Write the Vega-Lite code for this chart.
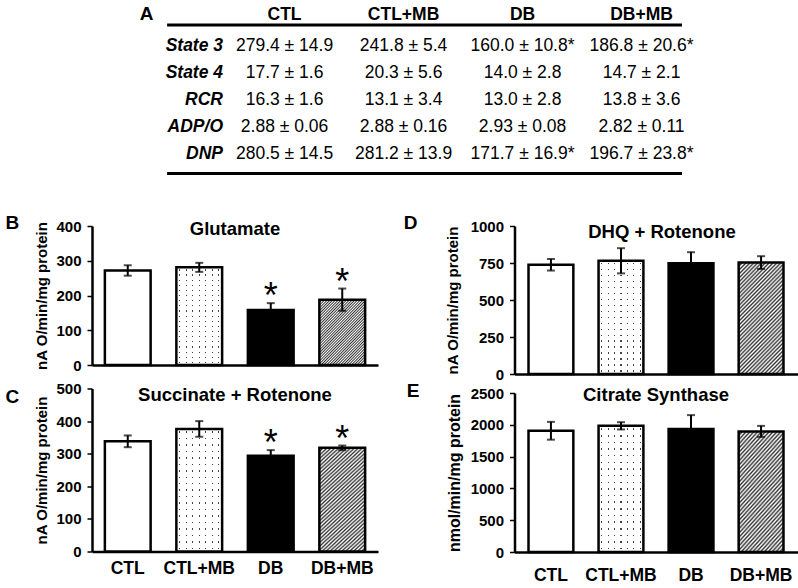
{
  "$schema": "https://vega.github.io/schema/vega-lite/v6.json",
  "config": {
    "font": "Liberation Sans",
    "view": {"stroke": null},
    "axis": {"domainColor": "black", "tickColor": "black", "labelColor": "black", "titleColor": "black", "grid": false, "labelFont": "Liberation Sans", "titleFont": "Liberation Sans", "labelOverlap": false},
    "axisY": {"labelFontSize": 15, "labelFontWeight": "bold", "titleFontSize": 15, "titleFontWeight": "bold", "tickSize": 5, "tickWidth": 1.5, "domainWidth": 2.5, "labelPadding": 6},
    "axisX": {"domainWidth": 2.5},
    "text": {"color": "black"},
    "title": {"color": "black", "font": "Liberation Sans"},
    "style": {
      "hatch": {"color": {"gradient": "linear", "x1": 0, "y1": 0, "x2": 0.495, "y2": 1.207, "stops": [
        {"offset": 0, "color": "#333"}, {"offset": 0.0125, "color": "#fff"}, {"offset": 0.025, "color": "#333"}, {"offset": 0.0375, "color": "#fff"}, {"offset": 0.05, "color": "#333"}, {"offset": 0.0625, "color": "#fff"}, {"offset": 0.075, "color": "#333"}, {"offset": 0.0875, "color": "#fff"}, {"offset": 0.1, "color": "#333"}, {"offset": 0.1125, "color": "#fff"}, {"offset": 0.125, "color": "#333"}, {"offset": 0.1375, "color": "#fff"}, {"offset": 0.15, "color": "#333"}, {"offset": 0.1625, "color": "#fff"}, {"offset": 0.175, "color": "#333"}, {"offset": 0.1875, "color": "#fff"}, {"offset": 0.2, "color": "#333"}, {"offset": 0.2125, "color": "#fff"}, {"offset": 0.225, "color": "#333"}, {"offset": 0.2375, "color": "#fff"}, {"offset": 0.25, "color": "#333"}, {"offset": 0.2625, "color": "#fff"}, {"offset": 0.275, "color": "#333"}, {"offset": 0.2875, "color": "#fff"}, {"offset": 0.3, "color": "#333"}, {"offset": 0.3125, "color": "#fff"}, {"offset": 0.325, "color": "#333"}, {"offset": 0.3375, "color": "#fff"}, {"offset": 0.35, "color": "#333"}, {"offset": 0.3625, "color": "#fff"}, {"offset": 0.375, "color": "#333"}, {"offset": 0.3875, "color": "#fff"}, {"offset": 0.4, "color": "#333"}, {"offset": 0.4125, "color": "#fff"}, {"offset": 0.425, "color": "#333"}, {"offset": 0.4375, "color": "#fff"}, {"offset": 0.45, "color": "#333"}, {"offset": 0.4625, "color": "#fff"}, {"offset": 0.475, "color": "#333"}, {"offset": 0.4875, "color": "#fff"}, {"offset": 0.5, "color": "#333"}, {"offset": 0.5125, "color": "#fff"}, {"offset": 0.525, "color": "#333"}, {"offset": 0.5375, "color": "#fff"}, {"offset": 0.55, "color": "#333"}, {"offset": 0.5625, "color": "#fff"}, {"offset": 0.575, "color": "#333"}, {"offset": 0.5875, "color": "#fff"}, {"offset": 0.6, "color": "#333"}, {"offset": 0.6125, "color": "#fff"}, {"offset": 0.625, "color": "#333"}, {"offset": 0.6375, "color": "#fff"}, {"offset": 0.65, "color": "#333"}, {"offset": 0.6625, "color": "#fff"}, {"offset": 0.675, "color": "#333"}, {"offset": 0.6875, "color": "#fff"}, {"offset": 0.7, "color": "#333"}, {"offset": 0.7125, "color": "#fff"}, {"offset": 0.725, "color": "#333"}, {"offset": 0.7375, "color": "#fff"}, {"offset": 0.75, "color": "#333"}, {"offset": 0.7625, "color": "#fff"}, {"offset": 0.775, "color": "#333"}, {"offset": 0.7875, "color": "#fff"}, {"offset": 0.8, "color": "#333"}, {"offset": 0.8125, "color": "#fff"}, {"offset": 0.825, "color": "#333"}, {"offset": 0.8375, "color": "#fff"}, {"offset": 0.85, "color": "#333"}, {"offset": 0.8625, "color": "#fff"}, {"offset": 0.875, "color": "#333"}, {"offset": 0.8875, "color": "#fff"}, {"offset": 0.9, "color": "#333"}, {"offset": 0.9125, "color": "#fff"}, {"offset": 0.925, "color": "#333"}, {"offset": 0.9375, "color": "#fff"}, {"offset": 0.95, "color": "#333"}, {"offset": 0.9625, "color": "#fff"}, {"offset": 0.975, "color": "#333"}, {"offset": 0.9875, "color": "#fff"}, {"offset": 1, "color": "#333"}
      ]}},
      "hatchB": {"color": {"gradient": "linear", "x1": 0, "y1": 0, "x2": 0.807, "y2": 1.137, "stops": [
        {"offset": 0, "color": "#333"}, {"offset": 0.0125, "color": "#fff"}, {"offset": 0.025, "color": "#333"}, {"offset": 0.0375, "color": "#fff"}, {"offset": 0.05, "color": "#333"}, {"offset": 0.0625, "color": "#fff"}, {"offset": 0.075, "color": "#333"}, {"offset": 0.0875, "color": "#fff"}, {"offset": 0.1, "color": "#333"}, {"offset": 0.1125, "color": "#fff"}, {"offset": 0.125, "color": "#333"}, {"offset": 0.1375, "color": "#fff"}, {"offset": 0.15, "color": "#333"}, {"offset": 0.1625, "color": "#fff"}, {"offset": 0.175, "color": "#333"}, {"offset": 0.1875, "color": "#fff"}, {"offset": 0.2, "color": "#333"}, {"offset": 0.2125, "color": "#fff"}, {"offset": 0.225, "color": "#333"}, {"offset": 0.2375, "color": "#fff"}, {"offset": 0.25, "color": "#333"}, {"offset": 0.2625, "color": "#fff"}, {"offset": 0.275, "color": "#333"}, {"offset": 0.2875, "color": "#fff"}, {"offset": 0.3, "color": "#333"}, {"offset": 0.3125, "color": "#fff"}, {"offset": 0.325, "color": "#333"}, {"offset": 0.3375, "color": "#fff"}, {"offset": 0.35, "color": "#333"}, {"offset": 0.3625, "color": "#fff"}, {"offset": 0.375, "color": "#333"}, {"offset": 0.3875, "color": "#fff"}, {"offset": 0.4, "color": "#333"}, {"offset": 0.4125, "color": "#fff"}, {"offset": 0.425, "color": "#333"}, {"offset": 0.4375, "color": "#fff"}, {"offset": 0.45, "color": "#333"}, {"offset": 0.4625, "color": "#fff"}, {"offset": 0.475, "color": "#333"}, {"offset": 0.4875, "color": "#fff"}, {"offset": 0.5, "color": "#333"}, {"offset": 0.5125, "color": "#fff"}, {"offset": 0.525, "color": "#333"}, {"offset": 0.5375, "color": "#fff"}, {"offset": 0.55, "color": "#333"}, {"offset": 0.5625, "color": "#fff"}, {"offset": 0.575, "color": "#333"}, {"offset": 0.5875, "color": "#fff"}, {"offset": 0.6, "color": "#333"}, {"offset": 0.6125, "color": "#fff"}, {"offset": 0.625, "color": "#333"}, {"offset": 0.6375, "color": "#fff"}, {"offset": 0.65, "color": "#333"}, {"offset": 0.6625, "color": "#fff"}, {"offset": 0.675, "color": "#333"}, {"offset": 0.6875, "color": "#fff"}, {"offset": 0.7, "color": "#333"}, {"offset": 0.7125, "color": "#fff"}, {"offset": 0.725, "color": "#333"}, {"offset": 0.7375, "color": "#fff"}, {"offset": 0.75, "color": "#333"}, {"offset": 0.7625, "color": "#fff"}, {"offset": 0.775, "color": "#333"}, {"offset": 0.7875, "color": "#fff"}, {"offset": 0.8, "color": "#333"}, {"offset": 0.8125, "color": "#fff"}, {"offset": 0.825, "color": "#333"}, {"offset": 0.8375, "color": "#fff"}, {"offset": 0.85, "color": "#333"}, {"offset": 0.8625, "color": "#fff"}, {"offset": 0.875, "color": "#333"}, {"offset": 0.8875, "color": "#fff"}, {"offset": 0.9, "color": "#333"}, {"offset": 0.9125, "color": "#fff"}, {"offset": 0.925, "color": "#333"}, {"offset": 0.9375, "color": "#fff"}, {"offset": 0.95, "color": "#333"}, {"offset": 0.9625, "color": "#fff"}, {"offset": 0.975, "color": "#333"}, {"offset": 0.9875, "color": "#fff"}, {"offset": 1, "color": "#333"}
      ]}},
      "vstripe": {"color": {"gradient": "linear", "x1": 0, "y1": 0, "x2": 1, "y2": 0, "stops": [
        {"offset": 0.058, "color": "white"}, {"offset": 0.058, "color": "rgba(255,255,255,0)"}, {"offset": 0.085, "color": "rgba(255,255,255,0)"}, {"offset": 0.085, "color": "white"},
        {"offset": 0.201, "color": "white"}, {"offset": 0.201, "color": "rgba(255,255,255,0)"}, {"offset": 0.228, "color": "rgba(255,255,255,0)"}, {"offset": 0.228, "color": "white"},
        {"offset": 0.344, "color": "white"}, {"offset": 0.344, "color": "rgba(255,255,255,0)"}, {"offset": 0.371, "color": "rgba(255,255,255,0)"}, {"offset": 0.371, "color": "white"},
        {"offset": 0.487, "color": "white"}, {"offset": 0.487, "color": "rgba(255,255,255,0)"}, {"offset": 0.514, "color": "rgba(255,255,255,0)"}, {"offset": 0.514, "color": "white"},
        {"offset": 0.629, "color": "white"}, {"offset": 0.629, "color": "rgba(255,255,255,0)"}, {"offset": 0.656, "color": "rgba(255,255,255,0)"}, {"offset": 0.656, "color": "white"},
        {"offset": 0.772, "color": "white"}, {"offset": 0.772, "color": "rgba(255,255,255,0)"}, {"offset": 0.799, "color": "rgba(255,255,255,0)"}, {"offset": 0.799, "color": "white"},
        {"offset": 0.915, "color": "white"}, {"offset": 0.915, "color": "rgba(255,255,255,0)"}, {"offset": 0.942, "color": "rgba(255,255,255,0)"}, {"offset": 0.942, "color": "white"}
      ]}},
      "hstripe": {"color": {"gradient": "linear", "x1": 0, "y1": 0, "x2": 0, "y2": 1, "stops": [
        {"offset": 0.0203, "color": "white"}, {"offset": 0.0203, "color": "rgba(255,255,255,0)"}, {"offset": 0.0323, "color": "rgba(255,255,255,0)"}, {"offset": 0.0323, "color": "white"},
        {"offset": 0.0729, "color": "white"}, {"offset": 0.0729, "color": "rgba(255,255,255,0)"}, {"offset": 0.0849, "color": "rgba(255,255,255,0)"}, {"offset": 0.0849, "color": "white"},
        {"offset": 0.1256, "color": "white"}, {"offset": 0.1256, "color": "rgba(255,255,255,0)"}, {"offset": 0.1376, "color": "rgba(255,255,255,0)"}, {"offset": 0.1376, "color": "white"},
        {"offset": 0.1782, "color": "white"}, {"offset": 0.1782, "color": "rgba(255,255,255,0)"}, {"offset": 0.1902, "color": "rgba(255,255,255,0)"}, {"offset": 0.1902, "color": "white"},
        {"offset": 0.2308, "color": "white"}, {"offset": 0.2308, "color": "rgba(255,255,255,0)"}, {"offset": 0.2428, "color": "rgba(255,255,255,0)"}, {"offset": 0.2428, "color": "white"},
        {"offset": 0.2835, "color": "white"}, {"offset": 0.2835, "color": "rgba(255,255,255,0)"}, {"offset": 0.2955, "color": "rgba(255,255,255,0)"}, {"offset": 0.2955, "color": "white"},
        {"offset": 0.3361, "color": "white"}, {"offset": 0.3361, "color": "rgba(255,255,255,0)"}, {"offset": 0.3481, "color": "rgba(255,255,255,0)"}, {"offset": 0.3481, "color": "white"},
        {"offset": 0.3887, "color": "white"}, {"offset": 0.3887, "color": "rgba(255,255,255,0)"}, {"offset": 0.4007, "color": "rgba(255,255,255,0)"}, {"offset": 0.4007, "color": "white"},
        {"offset": 0.4414, "color": "white"}, {"offset": 0.4414, "color": "rgba(255,255,255,0)"}, {"offset": 0.4534, "color": "rgba(255,255,255,0)"}, {"offset": 0.4534, "color": "white"},
        {"offset": 0.494, "color": "white"}, {"offset": 0.494, "color": "rgba(255,255,255,0)"}, {"offset": 0.506, "color": "rgba(255,255,255,0)"}, {"offset": 0.506, "color": "white"},
        {"offset": 0.5466, "color": "white"}, {"offset": 0.5466, "color": "rgba(255,255,255,0)"}, {"offset": 0.5586, "color": "rgba(255,255,255,0)"}, {"offset": 0.5586, "color": "white"},
        {"offset": 0.5993, "color": "white"}, {"offset": 0.5993, "color": "rgba(255,255,255,0)"}, {"offset": 0.6113, "color": "rgba(255,255,255,0)"}, {"offset": 0.6113, "color": "white"},
        {"offset": 0.6519, "color": "white"}, {"offset": 0.6519, "color": "rgba(255,255,255,0)"}, {"offset": 0.6639, "color": "rgba(255,255,255,0)"}, {"offset": 0.6639, "color": "white"},
        {"offset": 0.7045, "color": "white"}, {"offset": 0.7045, "color": "rgba(255,255,255,0)"}, {"offset": 0.7165, "color": "rgba(255,255,255,0)"}, {"offset": 0.7165, "color": "white"},
        {"offset": 0.7572, "color": "white"}, {"offset": 0.7572, "color": "rgba(255,255,255,0)"}, {"offset": 0.7692, "color": "rgba(255,255,255,0)"}, {"offset": 0.7692, "color": "white"},
        {"offset": 0.8098, "color": "white"}, {"offset": 0.8098, "color": "rgba(255,255,255,0)"}, {"offset": 0.8218, "color": "rgba(255,255,255,0)"}, {"offset": 0.8218, "color": "white"},
        {"offset": 0.8624, "color": "white"}, {"offset": 0.8624, "color": "rgba(255,255,255,0)"}, {"offset": 0.8744, "color": "rgba(255,255,255,0)"}, {"offset": 0.8744, "color": "white"},
        {"offset": 0.9151, "color": "white"}, {"offset": 0.9151, "color": "rgba(255,255,255,0)"}, {"offset": 0.9271, "color": "rgba(255,255,255,0)"}, {"offset": 0.9271, "color": "white"},
        {"offset": 0.9677, "color": "white"}, {"offset": 0.9677, "color": "rgba(255,255,255,0)"}, {"offset": 0.9797, "color": "rgba(255,255,255,0)"}, {"offset": 0.9797, "color": "white"}
      ]}}
    }
  },
  "spacing": 39,
  "vconcat": [
    {
      "width": 696,
      "height": 148,
      "data": {"values": [
        {"row": "State 3", "col": "CTL", "txt": "279.4 ± 14.9"},
        {"row": "State 3", "col": "CTL+MB", "txt": "241.8 ± 5.4"},
        {"row": "State 3", "col": "DB", "txt": "160.0 ± 10.8*"},
        {"row": "State 3", "col": "DB+MB", "txt": "186.8 ± 20.6*"},
        {"row": "State 4", "col": "CTL", "txt": "17.7 ± 1.6"},
        {"row": "State 4", "col": "CTL+MB", "txt": "20.3 ± 5.6"},
        {"row": "State 4", "col": "DB", "txt": "14.0 ± 2.8"},
        {"row": "State 4", "col": "DB+MB", "txt": "14.7 ± 2.1"},
        {"row": "RCR", "col": "CTL", "txt": "16.3 ± 1.6"},
        {"row": "RCR", "col": "CTL+MB", "txt": "13.1 ± 3.4"},
        {"row": "RCR", "col": "DB", "txt": "13.0 ± 2.8"},
        {"row": "RCR", "col": "DB+MB", "txt": "13.8 ± 3.6"},
        {"row": "ADP/O", "col": "CTL", "txt": "2.88 ± 0.06"},
        {"row": "ADP/O", "col": "CTL+MB", "txt": "2.88 ± 0.16"},
        {"row": "ADP/O", "col": "DB", "txt": "2.93 ± 0.08"},
        {"row": "ADP/O", "col": "DB+MB", "txt": "2.82 ± 0.11"},
        {"row": "DNP", "col": "CTL", "txt": "280.5 ± 14.5"},
        {"row": "DNP", "col": "CTL+MB", "txt": "281.2 ± 13.9"},
        {"row": "DNP", "col": "DB", "txt": "171.7 ± 16.9*"},
        {"row": "DNP", "col": "DB+MB", "txt": "196.7 ± 23.8*"}
      ]},
      "layer": [
        {
          "mark": {"type": "text", "fontSize": 17.5, "baseline": "middle"},
          "encoding": {
            "x": {"field": "col", "type": "nominal", "scale": {"type": "band", "domain": ["lbl", "CTL", "CTL+MB", "DB", "DB+MB"], "paddingInner": 0, "paddingOuter": 0.4244, "align": 0.139},
                  "axis": {"orient": "top", "values": ["CTL", "CTL+MB", "DB", "DB+MB"], "domain": false, "ticks": false, "labelFontSize": 17.5, "labelFontWeight": "bold", "labelPadding": 1.5, "labelAngle": 0, "title": null}},
            "y": {"field": "row", "type": "nominal", "scale": {"type": "band", "domain": ["State 3", "State 4", "RCR", "ADP/O", "DNP"], "paddingInner": 0, "paddingOuter": 0.2407, "align": 0.577}, "axis": null},
            "text": {"field": "txt"}
          }
        },
        {
          "data": {"values": [{"row": "State 3"}, {"row": "State 4"}, {"row": "RCR"}, {"row": "ADP/O"}, {"row": "DNP"}]},
          "mark": {"type": "text", "fontSize": 17.5, "fontWeight": "bold", "fontStyle": "italic", "align": "right", "baseline": "middle"},
          "encoding": {
            "x": {"datum": "lbl", "type": "nominal", "bandPosition": 0.983},
            "y": {"field": "row", "type": "nominal"},
            "text": {"field": "row"}
          }
        },
        {
          "data": {"values": [{"label": "A"}]},
          "mark": {"type": "text", "fontSize": 19, "fontWeight": "bold", "align": "center", "baseline": "middle"},
          "encoding": {
            "x": {"datum": "lbl", "type": "nominal", "bandPosition": 0.34},
            "y": {"datum": "State 3", "type": "nominal", "bandPosition": -0.685},
            "text": {"field": "label"}
          }
        },
        {
          "data": {"values": [{}]},
          "mark": {"type": "rule", "strokeWidth": 3, "color": "black"},
          "encoding": {
            "x": {"datum": "lbl", "type": "nominal", "bandPosition": 0.513},
            "x2": {"datum": "DB+MB", "bandPosition": 0.84},
            "y": {"datum": "State 3", "type": "nominal", "bandPosition": -0.278}
          }
        },
        {
          "data": {"values": [{}]},
          "mark": {"type": "rule", "strokeWidth": 3, "color": "black"},
          "encoding": {
            "x": {"datum": "lbl", "type": "nominal", "bandPosition": 0.513},
            "x2": {"datum": "DB+MB", "bandPosition": 0.84},
            "y": {"datum": "DNP", "type": "nominal", "bandPosition": 1.222}
          }
        }
      ]
    },
    {
      "spacing": 25.5,
      "hconcat": [
        {
          "spacing": 8.5,
          "vconcat": [
            {
              "width": 286,
              "height": 139,
              "title": {"text": "B", "orient": "left", "anchor": "end", "frame": "group", "angle": 0, "align": "right", "baseline": "top", "offset": 2, "dy": -12, "fontSize": 19, "fontWeight": "bold"},
              "data": {"values": [
                {"group": "CTL", "mean": 272, "lo": 257, "hi": 287, "sig": ""},
                {"group": "CTL+MB", "mean": 281, "lo": 268, "hi": 294, "sig": ""},
                {"group": "DB", "mean": 158, "lo": 138, "hi": 178, "sig": "*"},
                {"group": "DB+MB", "mean": 188, "lo": 156, "hi": 220, "sig": "*"}
              ]},
              "layer": [
                {
                  "mark": {"type": "bar"},
                  "encoding": {
                    "x": {"field": "group", "type": "nominal", "scale": {"domain": ["CTL", "CTL+MB", "DB", "DB+MB"], "paddingInner": 0.36, "paddingOuter": 0.18}, "axis": {"title": null, "labels": false, "ticks": false, "domainWidth": 2.5}},
                    "y": {"field": "mean", "type": "quantitative", "scale": {"domain": [0, 400], "nice": false}, "axis": {"title": "nA O/min/mg protein", "values": [0, 100, 200, 300, 400], "format": "d", "labelFontSize": 15, "labelFontWeight": "bold", "titleFontSize": 15, "titleFontWeight": "bold", "tickSize": 5, "tickWidth": 1.5, "domainWidth": 2.5, "labelPadding": 6, "titlePadding": 6}},
                    "fill": {"condition": [{"test": "datum.group === 'CTL+MB'", "value": "#444"}, {"test": "datum.group === 'DB'", "value": "black"}], "value": "white"}
                  }
                },
                {"transform": [{"filter": "datum.group === 'DB+MB'"}], "mark": {"type": "bar", "style": "hatchB"}, "encoding": {"x": {"field": "group", "type": "nominal"}, "y": {"field": "mean", "type": "quantitative", "axis": {"title": "nA O/min/mg protein", "values": [0, 100, 200, 300, 400], "format": "d", "labelFontSize": 15, "labelFontWeight": "bold", "titleFontSize": 15, "titleFontWeight": "bold", "tickSize": 5, "tickWidth": 1.5, "domainWidth": 2.5, "labelPadding": 6, "titlePadding": 6}}}},
                {"transform": [{"filter": "datum.group === 'CTL+MB'"}], "mark": {"type": "bar", "style": "vstripe"}, "encoding": {"x": {"field": "group", "type": "nominal"}, "y": {"field": "mean", "type": "quantitative", "axis": {"title": "nA O/min/mg protein", "values": [0, 100, 200, 300, 400], "format": "d", "labelFontSize": 15, "labelFontWeight": "bold", "titleFontSize": 15, "titleFontWeight": "bold", "tickSize": 5, "tickWidth": 1.5, "domainWidth": 2.5, "labelPadding": 6, "titlePadding": 6}}}},
                {"transform": [{"filter": "datum.group === 'CTL+MB'"}], "mark": {"type": "bar", "style": "hstripe"}, "encoding": {"x": {"field": "group", "type": "nominal"}, "y": {"field": "mean", "type": "quantitative", "axis": {"title": "nA O/min/mg protein", "values": [0, 100, 200, 300, 400], "format": "d", "labelFontSize": 15, "labelFontWeight": "bold", "titleFontSize": 15, "titleFontWeight": "bold", "tickSize": 5, "tickWidth": 1.5, "domainWidth": 2.5, "labelPadding": 6, "titlePadding": 6}}}},
                {"mark": {"type": "bar", "fill": "white", "fillOpacity": 0, "stroke": "black", "strokeWidth": 2.5}, "encoding": {"x": {"field": "group", "type": "nominal"}, "y": {"field": "mean", "type": "quantitative", "axis": {"title": "nA O/min/mg protein", "values": [0, 100, 200, 300, 400], "format": "d", "labelFontSize": 15, "labelFontWeight": "bold", "titleFontSize": 15, "titleFontWeight": "bold", "tickSize": 5, "tickWidth": 1.5, "domainWidth": 2.5, "labelPadding": 6, "titlePadding": 6}}}},
                {"mark": {"type": "errorbar", "color": "black", "ticks": {"size": 8, "thickness": 2, "color": "black"}, "rule": {"strokeWidth": 2, "color": "black"}}, "encoding": {"x": {"field": "group", "type": "nominal"}, "y": {"field": "lo", "type": "quantitative", "axis": {"title": "nA O/min/mg protein", "values": [0, 100, 200, 300, 400], "format": "d", "labelFontSize": 15, "labelFontWeight": "bold", "titleFontSize": 15, "titleFontWeight": "bold", "tickSize": 5, "tickWidth": 1.5, "domainWidth": 2.5, "labelPadding": 6, "titlePadding": 6}}, "y2": {"field": "hi"}}},
                {"mark": {"type": "text", "fontSize": 36, "baseline": "alphabetic", "dy": 5}, "encoding": {"x": {"field": "group", "type": "nominal"}, "y": {"field": "hi", "type": "quantitative", "axis": {"title": "nA O/min/mg protein", "values": [0, 100, 200, 300, 400], "format": "d", "labelFontSize": 15, "labelFontWeight": "bold", "titleFontSize": 15, "titleFontWeight": "bold", "tickSize": 5, "tickWidth": 1.5, "domainWidth": 2.5, "labelPadding": 6, "titlePadding": 6}}, "text": {"field": "sig"}}},
                {"data": {"values": [{"name": "Glutamate"}]}, "mark": {"type": "text", "fontSize": 18.5, "fontWeight": "bold", "baseline": "middle", "dy": 3}, "encoding": {"y": {"datum": 400, "type": "quantitative", "axis": {"title": "nA O/min/mg protein", "values": [0, 100, 200, 300, 400], "format": "d", "labelFontSize": 15, "labelFontWeight": "bold", "titleFontSize": 15, "titleFontWeight": "bold", "tickSize": 5, "tickWidth": 1.5, "domainWidth": 2.5, "labelPadding": 6, "titlePadding": 6}}, "text": {"field": "name"}}}
              ]
            },
            {
              "width": 286,
              "height": 163,
              "title": {"text": "C", "orient": "left", "anchor": "end", "frame": "group", "angle": 0, "align": "right", "baseline": "top", "offset": 2, "dy": -1, "fontSize": 19, "fontWeight": "bold"},
              "data": {"values": [
                {"group": "CTL", "mean": 338, "lo": 320, "hi": 356, "sig": ""},
                {"group": "CTL+MB", "mean": 376, "lo": 352, "hi": 400, "sig": ""},
                {"group": "DB", "mean": 294, "lo": 277, "hi": 311, "sig": "*"},
                {"group": "DB+MB", "mean": 318, "lo": 311, "hi": 325, "sig": "*"}
              ]},
              "layer": [
                {
                  "mark": {"type": "bar"},
                  "encoding": {
                    "x": {"field": "group", "type": "nominal", "scale": {"domain": ["CTL", "CTL+MB", "DB", "DB+MB"], "paddingInner": 0.36, "paddingOuter": 0.18}, "axis": {"title": null, "labelAngle": 0, "labelFontSize": 17.5, "labelFontWeight": "bold", "labelPadding": 8, "ticks": false, "domainWidth": 2.5}},
                    "y": {"field": "mean", "type": "quantitative", "scale": {"domain": [0, 500], "nice": false}, "axis": {"title": "nA O/min/mg protein", "values": [0, 100, 200, 300, 400, 500], "format": "d", "labelFontSize": 15, "labelFontWeight": "bold", "titleFontSize": 15, "titleFontWeight": "bold", "tickSize": 5, "tickWidth": 1.5, "domainWidth": 2.5, "labelPadding": 6, "titlePadding": 6}},
                    "fill": {"condition": [{"test": "datum.group === 'CTL+MB'", "value": "#444"}, {"test": "datum.group === 'DB'", "value": "black"}], "value": "white"}
                  }
                },
                {"transform": [{"filter": "datum.group === 'DB+MB'"}], "mark": {"type": "bar", "style": "hatch"}, "encoding": {"x": {"field": "group", "type": "nominal"}, "y": {"field": "mean", "type": "quantitative", "axis": {"title": "nA O/min/mg protein", "values": [0, 100, 200, 300, 400, 500], "format": "d", "labelFontSize": 15, "labelFontWeight": "bold", "titleFontSize": 15, "titleFontWeight": "bold", "tickSize": 5, "tickWidth": 1.5, "domainWidth": 2.5, "labelPadding": 6, "titlePadding": 6}}}},
                {"transform": [{"filter": "datum.group === 'CTL+MB'"}], "mark": {"type": "bar", "style": "vstripe"}, "encoding": {"x": {"field": "group", "type": "nominal"}, "y": {"field": "mean", "type": "quantitative", "axis": {"title": "nA O/min/mg protein", "values": [0, 100, 200, 300, 400, 500], "format": "d", "labelFontSize": 15, "labelFontWeight": "bold", "titleFontSize": 15, "titleFontWeight": "bold", "tickSize": 5, "tickWidth": 1.5, "domainWidth": 2.5, "labelPadding": 6, "titlePadding": 6}}}},
                {"transform": [{"filter": "datum.group === 'CTL+MB'"}], "mark": {"type": "bar", "style": "hstripe"}, "encoding": {"x": {"field": "group", "type": "nominal"}, "y": {"field": "mean", "type": "quantitative", "axis": {"title": "nA O/min/mg protein", "values": [0, 100, 200, 300, 400, 500], "format": "d", "labelFontSize": 15, "labelFontWeight": "bold", "titleFontSize": 15, "titleFontWeight": "bold", "tickSize": 5, "tickWidth": 1.5, "domainWidth": 2.5, "labelPadding": 6, "titlePadding": 6}}}},
                {"mark": {"type": "bar", "fill": "white", "fillOpacity": 0, "stroke": "black", "strokeWidth": 2.5}, "encoding": {"x": {"field": "group", "type": "nominal"}, "y": {"field": "mean", "type": "quantitative", "axis": {"title": "nA O/min/mg protein", "values": [0, 100, 200, 300, 400, 500], "format": "d", "labelFontSize": 15, "labelFontWeight": "bold", "titleFontSize": 15, "titleFontWeight": "bold", "tickSize": 5, "tickWidth": 1.5, "domainWidth": 2.5, "labelPadding": 6, "titlePadding": 6}}}},
                {"mark": {"type": "errorbar", "color": "black", "ticks": {"size": 8, "thickness": 2, "color": "black"}, "rule": {"strokeWidth": 2, "color": "black"}}, "encoding": {"x": {"field": "group", "type": "nominal"}, "y": {"field": "lo", "type": "quantitative", "axis": {"title": "nA O/min/mg protein", "values": [0, 100, 200, 300, 400, 500], "format": "d", "labelFontSize": 15, "labelFontWeight": "bold", "titleFontSize": 15, "titleFontWeight": "bold", "tickSize": 5, "tickWidth": 1.5, "domainWidth": 2.5, "labelPadding": 6, "titlePadding": 6}}, "y2": {"field": "hi"}}},
                {"mark": {"type": "text", "fontSize": 36, "baseline": "alphabetic", "dy": 5}, "encoding": {"x": {"field": "group", "type": "nominal"}, "y": {"field": "hi", "type": "quantitative", "axis": {"title": "nA O/min/mg protein", "values": [0, 100, 200, 300, 400, 500], "format": "d", "labelFontSize": 15, "labelFontWeight": "bold", "titleFontSize": 15, "titleFontWeight": "bold", "tickSize": 5, "tickWidth": 1.5, "domainWidth": 2.5, "labelPadding": 6, "titlePadding": 6}}, "text": {"field": "sig"}}},
                {"data": {"values": [{"name": "Succinate + Rotenone"}]}, "mark": {"type": "text", "fontSize": 18.5, "fontWeight": "bold", "baseline": "middle", "dy": 6}, "encoding": {"y": {"datum": 500, "type": "quantitative", "axis": {"title": "nA O/min/mg protein", "values": [0, 100, 200, 300, 400, 500], "format": "d", "labelFontSize": 15, "labelFontWeight": "bold", "titleFontSize": 15, "titleFontWeight": "bold", "tickSize": 5, "tickWidth": 1.5, "domainWidth": 2.5, "labelPadding": 6, "titlePadding": 6}}, "text": {"field": "name"}}}
              ]
            }
          ]
        },
        {
          "spacing": 0,
          "vconcat": [
            {
              "width": 283,
              "height": 148,
              "title": {"text": "D", "orient": "left", "anchor": "end", "frame": "group", "angle": 0, "align": "right", "baseline": "top", "offset": 14, "dy": -12, "fontSize": 19, "fontWeight": "bold"},
              "data": {"values": [
                {"group": "CTL", "mean": 738, "lo": 699, "hi": 777, "sig": ""},
                {"group": "CTL+MB", "mean": 766, "lo": 680, "hi": 850, "sig": ""},
                {"group": "DB", "mean": 749, "lo": 675, "hi": 823, "sig": ""},
                {"group": "DB+MB", "mean": 753, "lo": 710, "hi": 796, "sig": ""}
              ]},
              "layer": [
                {
                  "mark": {"type": "bar"},
                  "encoding": {
                    "x": {"field": "group", "type": "nominal", "scale": {"domain": ["CTL", "CTL+MB", "DB", "DB+MB"], "paddingInner": 0.36, "paddingOuter": 0.2}, "axis": {"title": null, "labels": false, "ticks": false, "domainWidth": 2.5}},
                    "y": {"field": "mean", "type": "quantitative", "scale": {"domain": [0, 1000], "nice": false}, "axis": {"title": "nA O/min/mg protein", "values": [0, 250, 500, 750, 1000], "format": "d", "labelFontSize": 15, "labelFontWeight": "bold", "titleFontSize": 15, "titleFontWeight": "bold", "tickSize": 5, "tickWidth": 1.5, "domainWidth": 2.5, "labelPadding": 6, "titlePadding": 10}},
                    "fill": {"condition": [{"test": "datum.group === 'CTL+MB'", "value": "#444"}, {"test": "datum.group === 'DB'", "value": "black"}], "value": "white"}
                  }
                },
                {"transform": [{"filter": "datum.group === 'DB+MB'"}], "mark": {"type": "bar", "style": "hatch"}, "encoding": {"x": {"field": "group", "type": "nominal"}, "y": {"field": "mean", "type": "quantitative", "axis": {"title": "nA O/min/mg protein", "values": [0, 250, 500, 750, 1000], "format": "d", "labelFontSize": 15, "labelFontWeight": "bold", "titleFontSize": 15, "titleFontWeight": "bold", "tickSize": 5, "tickWidth": 1.5, "domainWidth": 2.5, "labelPadding": 6, "titlePadding": 10}}}},
                {"transform": [{"filter": "datum.group === 'CTL+MB'"}], "mark": {"type": "bar", "style": "vstripe"}, "encoding": {"x": {"field": "group", "type": "nominal"}, "y": {"field": "mean", "type": "quantitative", "axis": {"title": "nA O/min/mg protein", "values": [0, 250, 500, 750, 1000], "format": "d", "labelFontSize": 15, "labelFontWeight": "bold", "titleFontSize": 15, "titleFontWeight": "bold", "tickSize": 5, "tickWidth": 1.5, "domainWidth": 2.5, "labelPadding": 6, "titlePadding": 10}}}},
                {"transform": [{"filter": "datum.group === 'CTL+MB'"}], "mark": {"type": "bar", "style": "hstripe"}, "encoding": {"x": {"field": "group", "type": "nominal"}, "y": {"field": "mean", "type": "quantitative", "axis": {"title": "nA O/min/mg protein", "values": [0, 250, 500, 750, 1000], "format": "d", "labelFontSize": 15, "labelFontWeight": "bold", "titleFontSize": 15, "titleFontWeight": "bold", "tickSize": 5, "tickWidth": 1.5, "domainWidth": 2.5, "labelPadding": 6, "titlePadding": 10}}}},
                {"mark": {"type": "bar", "fill": "white", "fillOpacity": 0, "stroke": "black", "strokeWidth": 2.5}, "encoding": {"x": {"field": "group", "type": "nominal"}, "y": {"field": "mean", "type": "quantitative", "axis": {"title": "nA O/min/mg protein", "values": [0, 250, 500, 750, 1000], "format": "d", "labelFontSize": 15, "labelFontWeight": "bold", "titleFontSize": 15, "titleFontWeight": "bold", "tickSize": 5, "tickWidth": 1.5, "domainWidth": 2.5, "labelPadding": 6, "titlePadding": 10}}}},
                {"mark": {"type": "errorbar", "color": "black", "ticks": {"size": 8, "thickness": 2, "color": "black"}, "rule": {"strokeWidth": 2, "color": "black"}}, "encoding": {"x": {"field": "group", "type": "nominal"}, "y": {"field": "lo", "type": "quantitative", "axis": {"title": "nA O/min/mg protein", "values": [0, 250, 500, 750, 1000], "format": "d", "labelFontSize": 15, "labelFontWeight": "bold", "titleFontSize": 15, "titleFontWeight": "bold", "tickSize": 5, "tickWidth": 1.5, "domainWidth": 2.5, "labelPadding": 6, "titlePadding": 10}}, "y2": {"field": "hi"}}},
                {"data": {"values": [{"name": "DHQ + Rotenone"}]}, "mark": {"type": "text", "fontSize": 18.5, "fontWeight": "bold", "baseline": "middle", "dy": 6, "dx": 6}, "encoding": {"y": {"datum": 1000, "type": "quantitative", "axis": {"title": "nA O/min/mg protein", "values": [0, 250, 500, 750, 1000], "format": "d", "labelFontSize": 15, "labelFontWeight": "bold", "titleFontSize": 15, "titleFontWeight": "bold", "tickSize": 5, "tickWidth": 1.5, "domainWidth": 2.5, "labelPadding": 6, "titlePadding": 10}}, "text": {"field": "name"}}}
              ]
            },
            {
              "width": 283,
              "height": 159,
              "title": {"text": "E", "orient": "left", "anchor": "end", "frame": "group", "angle": 0, "align": "right", "baseline": "top", "offset": 14, "dy": -11, "fontSize": 19, "fontWeight": "bold"},
              "data": {"values": [
                {"group": "CTL", "mean": 1906, "lo": 1766, "hi": 2046, "sig": ""},
                {"group": "CTL+MB", "mean": 1984, "lo": 1927, "hi": 2041, "sig": ""},
                {"group": "DB", "mean": 1932, "lo": 1712, "hi": 2152, "sig": ""},
                {"group": "DB+MB", "mean": 1896, "lo": 1809, "hi": 1983, "sig": ""}
              ]},
              "layer": [
                {
                  "mark": {"type": "bar"},
                  "encoding": {
                    "x": {"field": "group", "type": "nominal", "scale": {"domain": ["CTL", "CTL+MB", "DB", "DB+MB"], "paddingInner": 0.36, "paddingOuter": 0.2}, "axis": {"title": null, "labelAngle": 0, "labelFontSize": 17.5, "labelFontWeight": "bold", "labelPadding": 14, "ticks": false, "domainWidth": 2.5}},
                    "y": {"field": "mean", "type": "quantitative", "scale": {"domain": [0, 2500], "nice": false}, "axis": {"title": "nmol/min/mg protein", "values": [0, 500, 1000, 1500, 2000, 2500], "format": "d", "labelFontSize": 15, "labelFontWeight": "bold", "titleFontSize": 16, "titleFontWeight": "bold", "tickSize": 5, "tickWidth": 1.5, "domainWidth": 2.5, "labelPadding": 6, "titlePadding": 8}},
                    "fill": {"condition": [{"test": "datum.group === 'CTL+MB'", "value": "#444"}, {"test": "datum.group === 'DB'", "value": "black"}], "value": "white"}
                  }
                },
                {"transform": [{"filter": "datum.group === 'DB+MB'"}], "mark": {"type": "bar", "style": "hatch"}, "encoding": {"x": {"field": "group", "type": "nominal"}, "y": {"field": "mean", "type": "quantitative", "axis": {"title": "nmol/min/mg protein", "values": [0, 500, 1000, 1500, 2000, 2500], "format": "d", "labelFontSize": 15, "labelFontWeight": "bold", "titleFontSize": 16, "titleFontWeight": "bold", "tickSize": 5, "tickWidth": 1.5, "domainWidth": 2.5, "labelPadding": 6, "titlePadding": 8}}}},
                {"transform": [{"filter": "datum.group === 'CTL+MB'"}], "mark": {"type": "bar", "style": "vstripe"}, "encoding": {"x": {"field": "group", "type": "nominal"}, "y": {"field": "mean", "type": "quantitative", "axis": {"title": "nmol/min/mg protein", "values": [0, 500, 1000, 1500, 2000, 2500], "format": "d", "labelFontSize": 15, "labelFontWeight": "bold", "titleFontSize": 16, "titleFontWeight": "bold", "tickSize": 5, "tickWidth": 1.5, "domainWidth": 2.5, "labelPadding": 6, "titlePadding": 8}}}},
                {"transform": [{"filter": "datum.group === 'CTL+MB'"}], "mark": {"type": "bar", "style": "hstripe"}, "encoding": {"x": {"field": "group", "type": "nominal"}, "y": {"field": "mean", "type": "quantitative", "axis": {"title": "nmol/min/mg protein", "values": [0, 500, 1000, 1500, 2000, 2500], "format": "d", "labelFontSize": 15, "labelFontWeight": "bold", "titleFontSize": 16, "titleFontWeight": "bold", "tickSize": 5, "tickWidth": 1.5, "domainWidth": 2.5, "labelPadding": 6, "titlePadding": 8}}}},
                {"mark": {"type": "bar", "fill": "white", "fillOpacity": 0, "stroke": "black", "strokeWidth": 2.5}, "encoding": {"x": {"field": "group", "type": "nominal"}, "y": {"field": "mean", "type": "quantitative", "axis": {"title": "nmol/min/mg protein", "values": [0, 500, 1000, 1500, 2000, 2500], "format": "d", "labelFontSize": 15, "labelFontWeight": "bold", "titleFontSize": 16, "titleFontWeight": "bold", "tickSize": 5, "tickWidth": 1.5, "domainWidth": 2.5, "labelPadding": 6, "titlePadding": 8}}}},
                {"mark": {"type": "errorbar", "color": "black", "ticks": {"size": 8, "thickness": 2, "color": "black"}, "rule": {"strokeWidth": 2, "color": "black"}}, "encoding": {"x": {"field": "group", "type": "nominal"}, "y": {"field": "lo", "type": "quantitative", "axis": {"title": "nmol/min/mg protein", "values": [0, 500, 1000, 1500, 2000, 2500], "format": "d", "labelFontSize": 15, "labelFontWeight": "bold", "titleFontSize": 16, "titleFontWeight": "bold", "tickSize": 5, "tickWidth": 1.5, "domainWidth": 2.5, "labelPadding": 6, "titlePadding": 8}}, "y2": {"field": "hi"}}},
                {"data": {"values": [{"name": "Citrate Synthase"}]}, "mark": {"type": "text", "fontSize": 18.5, "fontWeight": "bold", "baseline": "middle", "dy": 2}, "encoding": {"y": {"datum": 2500, "type": "quantitative", "axis": {"title": "nmol/min/mg protein", "values": [0, 500, 1000, 1500, 2000, 2500], "format": "d", "labelFontSize": 15, "labelFontWeight": "bold", "titleFontSize": 16, "titleFontWeight": "bold", "tickSize": 5, "tickWidth": 1.5, "domainWidth": 2.5, "labelPadding": 6, "titlePadding": 8}}, "text": {"field": "name"}}}
              ]
            }
          ]
        }
      ]
    }
  ]
}
